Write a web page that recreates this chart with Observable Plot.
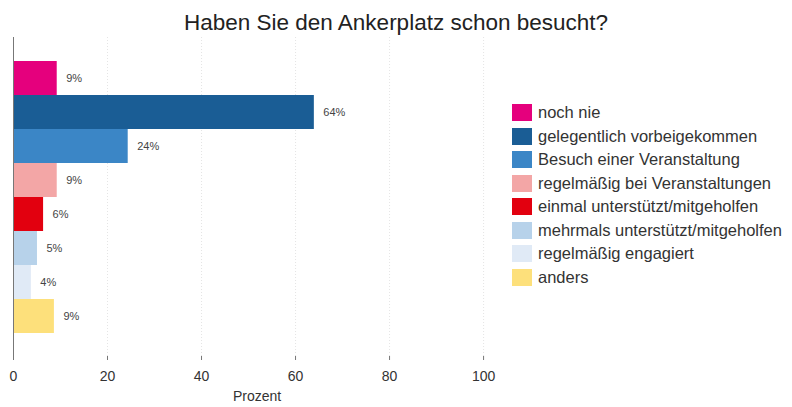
<!DOCTYPE html>
<html><head><meta charset="utf-8">
<script src="https://cdn.jsdelivr.net/npm/d3@7"></script>
<script src="https://cdn.jsdelivr.net/npm/@observablehq/plot@0.6"></script>
<style>
body{margin:0;background:#fff;font-family:"Liberation Sans",Arial,sans-serif;}
#wrap{position:relative;width:792px;height:407px;}
#title{height:29px;padding-top:8px;line-height:29px;text-align:center;font-size:22.5px;color:#222;white-space:nowrap;}
#legend{position:absolute;left:512px;top:101px;font-size:16.5px;color:#333;}
.li{display:flex;align-items:center;height:23.5px;white-space:nowrap;}
.sw{width:20px;height:17px;margin-right:6px;}
</style></head>
<body><div id="wrap"><div id="title">Haben Sie den Ankerplatz schon besucht?</div><div id="chart"></div><div id="legend"></div></div>
<script>
const categories = ["noch nie","gelegentlich vorbeigekommen","Besuch einer Veranstaltung","regelmäßig bei Veranstaltungen","einmal unterstützt/mitgeholfen","mehrmals unterstützt/mitgeholfen","regelmäßig engagiert","anders"];
const values = [9.3, 64.0, 24.4, 9.3, 6.4, 5.1, 3.8, 8.7];
const labels = ["9%","64%","24%","9%","6%","5%","4%","9%"];
const colors = ["#e5007d","#1a5d95","#3b86c6","#f3a6a6","#e2000f","#b7d2ea","#e0eaf6","#fde07b"];
const xTicks = [0,20,40,60,80,100];

const data = categories.map((c,i)=>({cat:c, value:values[i], label:labels[i]}));

const plot = Plot.plot({
  width: 792, height: 370,
  marginTop: 0, marginBottom: 51, marginLeft: 13, marginRight: 292,
  insetTop: 23, insetBottom: 23,
  style: {fontFamily: '"Liberation Sans",Arial,sans-serif', color:"#333"},
  x: {domain:[0,103.6]},
  y: {domain: categories, padding: 0, axis: null},
  color: {domain: categories, range: colors},
  marks: [
    Plot.gridX(xTicks.slice(1), {stroke:"#ccc", strokeOpacity:0.5, strokeDasharray:"1,2"}),
    Plot.barX(data, {x:"value", y:"cat", fill:"cat"}),
    Plot.text(data, {x:"value", y:"cat", text:"label", textAnchor:"start", dx:9, fontSize:11, fill:"#444"}),
    Plot.ruleX([0], {stroke:"#777"}),
    Plot.ruleY([0], {stroke:"#777"}),
    Plot.axisX(xTicks, {tickSize:4, tickPadding:11, fontSize:14, stroke:"#777", fill:"#333", label:"Prozent", labelAnchor:"center", labelArrow:"none", labelOffset:44})
  ]
});
document.getElementById("chart").appendChild(plot);

const lg = d3.select("#legend");
categories.forEach((c,i)=>{
  const r = lg.append("div").attr("class","li");
  r.append("div").attr("class","sw").style("background",colors[i]);
  r.append("span").text(c);
});
</script></body></html>
